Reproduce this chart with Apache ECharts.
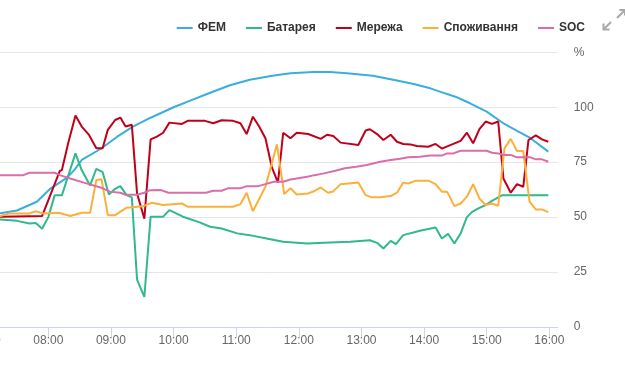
<!DOCTYPE html>
<html><head><meta charset="utf-8">
<script src="https://cdn.jsdelivr.net/npm/echarts@6/dist/echarts.min.js"></script>
<style>html,body{margin:0;padding:0;width:625px;height:372px;overflow:hidden;background:#fff}
#c{position:absolute;left:-40px;top:0;width:665px;height:372px}</style></head>
<body><div id="c"></div>
<script>
const seriesNames = ['ФЕМ', 'Батарея', 'Мережа', 'Споживання', 'SOC'];
const seriesColors = ['#3aaedc', '#2fb98c', '#c0001b', '#fbb03b', '#d96ea8'];
const hourLabels = ['07:00','08:00','09:00','10:00','11:00','12:00','13:00','14:00','15:00','16:00'];
const xRange = ['07:00', '16:08'];
const yTicks = [0, 25, 50, 75, 100, 125];
const yUnit = '%';

const fem = [['07:00',51],['07:14',51.8],['07:30',53],['07:49',57],['08:02',63],['08:18',68],['08:25',71.5],['08:32',76],['08:50',81],['09:06',86.6],['09:21',91.2],['09:37',95],['10:00',100],['10:16',103],['10:32',106],['10:54',110],['11:13',112.5],['11:36',114.4],['11:52',115.5],['12:14',116],['12:30',116],['12:46',115.5],['13:11',114.3],['13:34',112.2],['13:50',110.6],['14:06',108.6],['14:15',107.1],['14:30',104.8],['14:44',101.8],['15:00',98],['15:16',92.7],['15:30',89],['15:42',85.9],['15:59',79.8]];

const battery = [['07:00',49],['07:14',48.9],['07:30',48.3],['07:42',47.1],['07:48',47.3],['07:54',44.7],['08:00',50],['08:06',59.9],['08:13',59.9],['08:26',79],['08:32',71.4],['08:40',64.4],['08:46',72],['08:52',70.5],['08:58',60.3],['09:04',62.9],['09:09',64.1],['09:15',60],['09:20',59],['09:25',21.6],['09:32',13.7],['09:38',50.2],['09:50',50.2],['09:56',53.2],['10:09',50.2],['10:25',47.6],['10:35',45.6],['10:46',44.8],['11:01',42.6],['11:13',41.8],['11:29',40.3],['11:45',38.8],['12:08',38],['12:24',38.3],['12:49',38.8],['13:08',39.5],['13:15',38.3],['13:21',35.7],['13:28',39.2],['13:33',37.7],['13:40',41.8],['13:56',43.8],['14:11',45.3],['14:17',40.3],['14:23',42.4],['14:29',38],['14:35',42.6],['14:41',50],['14:46',52.4],['14:52',54],['14:59',55.5],['15:05',57.4],['15:15',60],['15:59',60]];

const grid = [['07:00',50.2],['07:14',50.2],['07:54',50.5],['08:05',63.8],['08:11',71],['08:13',71.4],['08:19',83.6],['08:26',96.2],['08:32',91.2],['08:39',87.4],['08:46',81.3],['08:52',81.3],['08:57',89.7],['09:04',94.2],['09:09',95.3],['09:14',91.2],['09:20',92],['09:25',60.8],['09:32',49.3],['09:38',85.4],['09:44',86.6],['09:50',88.4],['09:56',93],['10:08',92.4],['10:14',93.9],['10:30',93.8],['10:38',92.7],['10:46',94.1],['10:57',93.8],['11:04',92.7],['11:10',87.8],['11:16',95.7],['11:22',91.2],['11:28',85.9],['11:34',72.9],['11:40',65.7],['11:45',88.4],['11:52',85.9],['11:58',88.4],['12:09',87.8],['12:21',85.6],['12:27',87.5],['12:33',86.9],['12:40',83.9],['12:57',82.8],['13:04',89.4],['13:08',90],['13:15',87.8],['13:21',85.1],['13:28',87.5],['13:34',84.3],['13:40',83.3],['13:47',83.1],['13:53',82.4],['14:04',82],['14:11',83.3],['14:17',81.2],['14:28',83.3],['14:35',84.7],['14:41',88.4],['14:47',83.6],['14:53',90],['14:59',93.5],['15:05',92.4],['15:11',93.5],['15:16',67.6],['15:23',61.1],['15:29',65],['15:35',63.8],['15:40',85.1],['15:47',87.2],['15:53',85.4],['15:59',84.3]];

const consumption = [['07:00',50.5],['07:14',50.5],['07:23',51.7],['07:42',51.7],['07:48',52.7],['07:55',51.7],['08:10',52],['08:21',50.5],['08:32',52],['08:40',52],['08:46',66.9],['08:51',67.2],['08:57',50.9],['09:04',50.9],['09:15',54.3],['09:31',55],['09:39',56.5],['09:50',55.5],['10:08',56.2],['10:14',54.7],['10:57',54.7],['11:04',55.9],['11:10',61.1],['11:16',52.7],['11:28',63.8],['11:39',83.1],['11:46',60.5],['11:52',63.1],['11:58',60.3],['12:09',60.8],['12:15',61.9],['12:21',63.5],['12:28',61.1],['12:33',61.7],['12:40',65],['12:57',65.8],['13:04',60],['13:10',59],['13:18',59],['13:28',59.6],['13:34',61.1],['13:40',65.7],['13:45',65.3],['13:52',66.6],['14:04',66.6],['14:11',65],['14:17',61.6],['14:22',61.6],['14:29',55],['14:35',56.2],['14:41',59.3],['14:47',65],['14:53',58.5],['14:59',55.5],['15:05',56.2],['15:11',55.2],['15:17',81.3],['15:23',85.6],['15:29',80.1],['15:35',80.1],['15:41',57],['15:47',53.5],['15:53',53.5],['15:59',52.3]];

const soc = [['07:00',69.1],['07:36',69.1],['07:42',70.2],['08:06',70.2],['08:11',69.1],['08:21',67.6],['08:34',65.7],['08:50',63.5],['08:59',61.6],['09:09',61.1],['09:14',60.2],['09:25',60.2],['09:32',61.1],['09:37',62.2],['09:48',62.3],['09:55',61.1],['10:31',61.1],['10:38',62],['10:46',62],['10:52',63.1],['11:04',63.1],['11:10',64.1],['11:21',64.1],['11:28',65],['11:36',66.1],['11:45',66.1],['11:52',67.1],['11:58',67.6],['12:08',68.4],['12:15',69.1],['12:24',69.9],['12:35',71.1],['12:44',72.2],['12:55',72.9],['13:05',73.7],['13:18',75.2],['13:28',76],['13:37',76.6],['13:45',77.2],['13:56',77.5],['14:06',78],['14:17',78],['14:22',79],['14:28',79],['14:35',80.2],['15:00',80.2],['15:05',79.3],['15:11',79],['15:16',78.3],['15:23',78.3],['15:29',77.2],['15:42',77.2],['15:47',76.3],['15:53',76.3],['15:59',75.2]];

const allData = [fem, battery, grid, consumption, soc];

function toMin(s) { const p = s.split(':'); return (+p[0]) * 60 + (+p[1]); }
function fmt(m) { const h = Math.floor(m / 60), mm = Math.round(m % 60); return (h < 10 ? '0' : '') + h + ':' + (mm < 10 ? '0' : '') + mm; }

const FONT = 'Liberation Sans, Arial, sans-serif';
const hourVals = hourLabels.map(toMin);

const chart = echarts.init(document.getElementById('c'), null, { renderer: 'canvas' });
chart.setOption({
  animation: false,
  backgroundColor: '#fff',
  color: seriesColors,
  grid: { left: 25.7, right: 67.3, top: 52.3, bottom: 45, containLabel: false },
  legend: {
    right: 35, top: 17,
    icon: 'rect', itemWidth: 16, itemHeight: 2, itemGap: 20,
    textStyle: { fontFamily: FONT, fontWeight: 'bold', fontSize: 12, color: '#333333' },
    data: seriesNames
  },
  xAxis: {
    type: 'value',
    min: toMin(xRange[0]), max: toMin(xRange[1]), interval: 60,
    splitLine: { show: false },
    axisLine: { show: true, lineStyle: { color: '#ccd6eb', width: 1 } },
    axisTick: { show: true, length: 10, lineStyle: { color: '#ccd6eb' }, customValues: hourVals },
    axisLabel: { customValues: hourVals, formatter: v => fmt(v), color: '#666666', fontFamily: FONT, fontSize: 12, margin: 8 }
  },
  yAxis: {
    type: 'value', position: 'right',
    min: yTicks[0], max: yTicks[yTicks.length - 1], interval: yTicks[1] - yTicks[0],
    axisLine: { show: false }, axisTick: { show: false },
    splitLine: { lineStyle: { color: '#e6e6e6', width: 1 } },
    axisLabel: { align: 'left', margin: 16, color: '#666666', fontFamily: FONT, fontSize: 12,
      formatter: v => v === yTicks[yTicks.length - 1] ? yUnit : String(v) }
  },
  series: seriesNames.map((n, i) => ({
    name: n, type: 'line', showSymbol: false, symbol: 'none',
    lineStyle: { width: 2, color: seriesColors[i] },
    itemStyle: { color: seriesColors[i] },
    data: allData[i].map(d => [toMin(d[0]), d[1]])
  })),
  graphic: [
    { type: 'polyline', shape: { points: [[657, 18], [664.5, 10.5]] }, style: { stroke: '#a8a8a8', lineWidth: 2, fill: null } },
    { type: 'polyline', shape: { points: [[659.5, 10], [665, 10], [665, 15.5]] }, style: { stroke: '#a8a8a8', lineWidth: 2, fill: null } },
    { type: 'polyline', shape: { points: [[651, 22], [644, 29]] }, style: { stroke: '#a8a8a8', lineWidth: 2, fill: null } },
    { type: 'polyline', shape: { points: [[643.5, 23.5], [643.5, 29.5], [649.5, 29.5]] }, style: { stroke: '#a8a8a8', lineWidth: 2, fill: null } }
  ]
});
</script></body></html>
